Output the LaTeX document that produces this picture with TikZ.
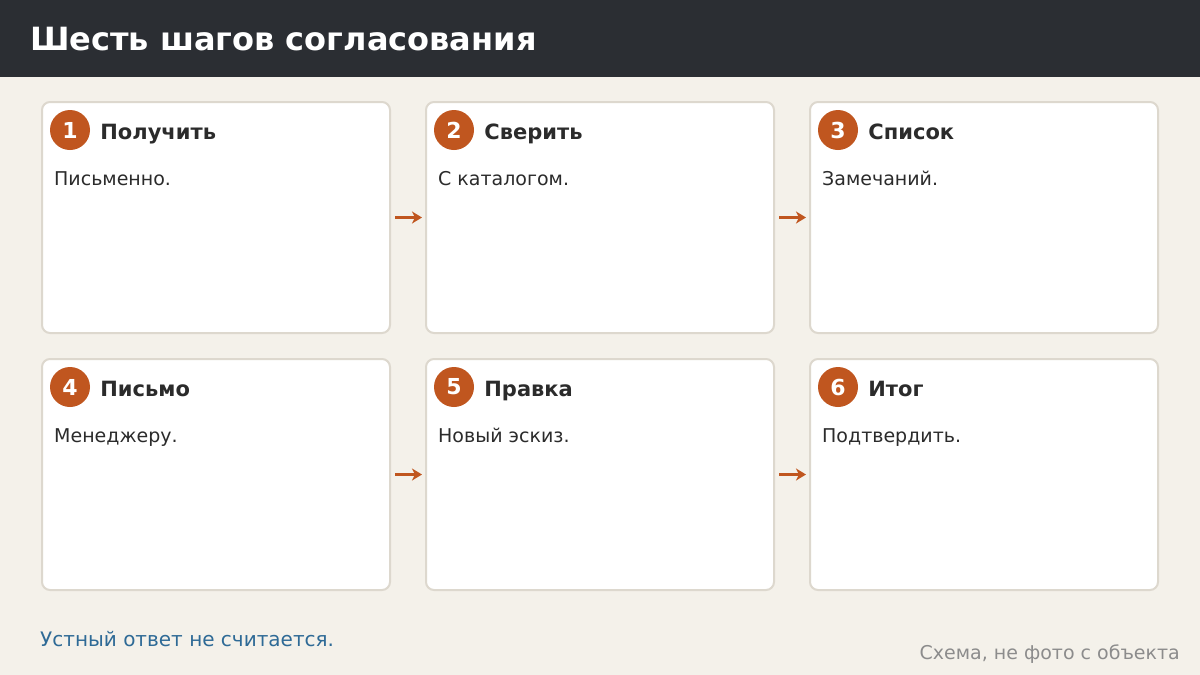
\documentclass[tikz,border=0pt]{standalone}
\usepackage{fontspec}
\setmainfont{DejaVu Sans}
\usepackage{tikz}
\usetikzlibrary{positioning,arrows.meta}
\definecolor{pagebg}{HTML}{F4F1EA}
\definecolor{headbg}{HTML}{2B2E33}
\definecolor{cardline}{HTML}{DDD8CE}
\definecolor{rust}{HTML}{C0561F}
\definecolor{inktext}{HTML}{2B2B2B}
\definecolor{noteblue}{HTML}{2E6A96}
\definecolor{captgray}{HTML}{8C8C8C}

\begin{document}
\begin{tikzpicture}[
  x=1pt, y=-1pt,
  every node/.style={inner sep=0pt},
  card/.style={rectangle, draw=cardline, line width=2pt, fill=white, rounded corners=8pt,
    minimum width=348pt, minimum height=231pt, anchor=north west},
  badge/.style={circle, fill=rust, minimum size=40pt, text=white, font=\fontsize{22}{26}\selectfont\bfseries},
  steptitle/.style={right=10pt of #1, text=inktext, text height=20pt, text depth=2pt,
    font=\fontsize{21}{25}\selectfont\bfseries},
  stepbody/.style={anchor=base west, text=inktext, font=\fontsize{19}{23}\selectfont},
  flow/.style={draw=rust, line width=3.5pt, -{Stealth[length=10pt,width=12pt,inset=3pt]},
    shorten <=4pt, shorten >=3pt, yshift=1.5pt}
  ]

% page and header
\fill[pagebg] (0,0) rectangle (1200,675);
\fill[headbg] (0,0) rectangle (1200,77);
\node[anchor=base west, text=white, font=\fontsize{32}{38}\selectfont\bfseries] (head) at (30,50) {Шесть шагов согласования};

% first row
\node[card] (c1) at (41,101) {};
\node[card] (c2) at (425,101) {};
\node[card] (c3) at (809,101) {};
\node[badge] (n1) at (70,130) {1};
\node[badge] (n2) at (454,130) {2};
\node[badge] (n3) at (838,130) {3};
\node[steptitle=n1] (t1) {Получить};
\node[steptitle=n2] (t2) {Сверить};
\node[steptitle=n3] (t3) {Список};
\node[stepbody] (b1) at (54,185) {Письменно.};
\node[stepbody] (b2) at (438,185) {С каталогом.};
\node[stepbody] (b3) at (822,185) {Замечаний.};

% second row
\node[card] (c4) at (41,358) {};
\node[card] (c5) at (425,358) {};
\node[card] (c6) at (809,358) {};
\node[badge] (n4) at (70,387) {4};
\node[badge] (n5) at (454,387) {5};
\node[badge] (n6) at (838,387) {6};
\node[steptitle=n4] (t4) {Письмо};
\node[steptitle=n5] (t5) {Правка};
\node[steptitle=n6] (t6) {Итог};
\node[stepbody] (b4) at (54,442) {Менеджеру.};
\node[stepbody] (b5) at (438,442) {Новый эскиз.};
\node[stepbody] (b6) at (822,442) {Подтвердить.};

% arrows
\draw[flow] (c1.east) -- (c2.west);
\draw[flow] (c2.east) -- (c3.west);
\draw[flow] (c4.east) -- (c5.west);
\draw[flow] (c5.east) -- (c6.west);

% footer
\node[anchor=base west, text=noteblue, font=\fontsize{20}{24}\selectfont] (note) at (40,646) {Устный ответ не считается.};
\node[anchor=base east, text=captgray, font=\fontsize{19}{23}\selectfont] (capt) at (1180,659) {Схема, не фото с объекта};
\end{tikzpicture}
\end{document}
